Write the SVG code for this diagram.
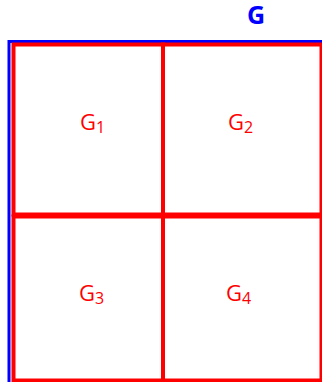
<svg xmlns="http://www.w3.org/2000/svg" width="322" height="382" viewBox="0 0 322 382">
<style>
.blue{fill:none;stroke:#0000ff;stroke-width:3}
.red{fill:none;stroke:#ff0000;stroke-width:4}
.lbl{font-family:"Open Sans",sans-serif;font-size:22px;fill:#ff0000}
.sub{font-size:16px}
.title{font-family:"Open Sans",sans-serif;font-size:25px;font-weight:bold;fill:#0000ff}
</style>
<g id="G">
<rect class="blue" x="9" y="41.5" width="320" height="350"/>
<text class="title" x="247" y="24">G</text>
</g>
<g id="G1">
<rect class="red" x="13.5" y="44.5" width="149.5" height="170"/>
<text class="lbl" x="80" y="130">G<tspan class="sub" dy="3">1</tspan></text>
</g>
<g id="G2">
<rect class="red" x="163" y="44.5" width="158.5" height="170"/>
<text class="lbl" x="228" y="130">G<tspan class="sub" dy="3">2</tspan></text>
</g>
<g id="G3">
<rect class="red" x="13.5" y="216.5" width="149.5" height="164"/>
<text class="lbl" x="79" y="301">G<tspan class="sub" dy="3">3</tspan></text>
</g>
<g id="G4">
<rect class="red" x="163" y="216.5" width="158.5" height="164"/>
<text class="lbl" x="226" y="301">G<tspan class="sub" dy="3">4</tspan></text>
</g>
<g id="connectors"></g>
</svg>
